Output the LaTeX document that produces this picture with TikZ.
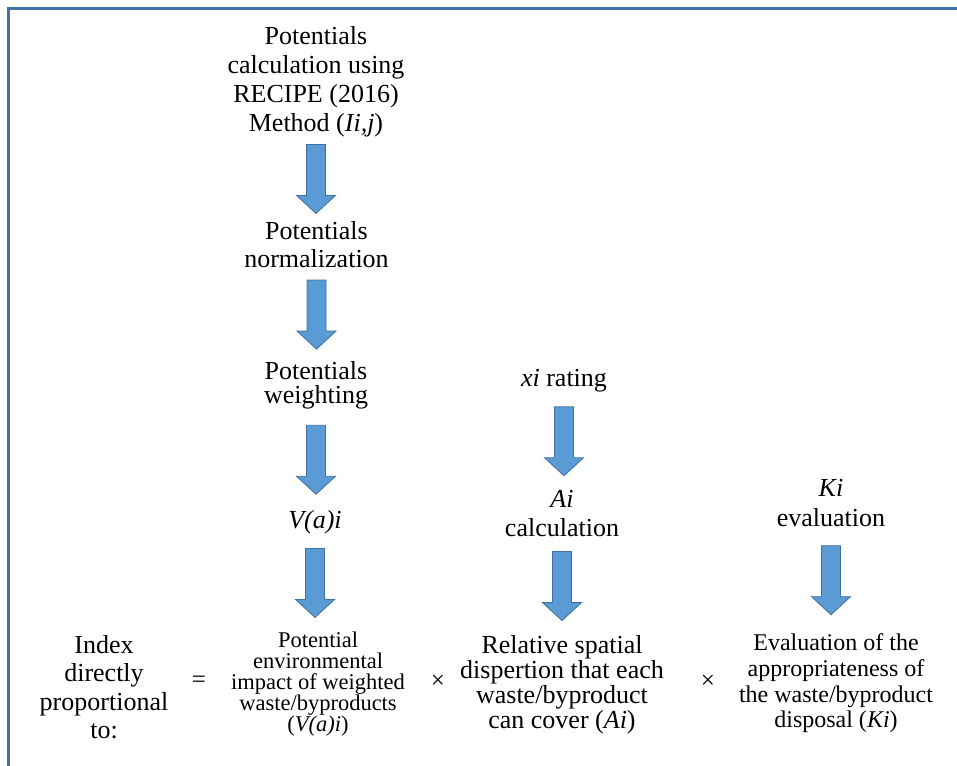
\documentclass[tikz,border=0pt]{standalone}
\usepackage{fontspec}
\setmainfont{Liberation Serif}
\usetikzlibrary{calc}
\definecolor{framecolor}{RGB}{65,113,165}
\definecolor{arrowfill}{RGB}{91,155,213}
\definecolor{arrowline}{RGB}{65,113,156}

\begin{document}
\begin{tikzpicture}[
    x=1pt, y=1pt,
    txt/.style={inner sep=0pt, anchor=north, align=center, font=\fontsize{26}{29}\selectfont},
    sign/.style={inner sep=0pt, font=\fontsize{25}{25}\selectfont},
    bigarrow/.style={draw=arrowline, fill=arrowfill, line width=0.8pt, line join=miter,
        to path={let \p1=(\tikztostart.south), \p2=($(\tikztostart.south)!0.5!(\tikztotarget.north)$) in
            (\x1-9.5pt,\y2+34.5pt) -- (\x1+9.5pt,\y2+34.5pt) -- (\x1+9.5pt,\y2-16.5pt) -- (\x1+19.5pt,\y2-16.5pt)
            -- (\x1,\y2-34.5pt) -- (\x1-19.5pt,\y2-16.5pt) -- (\x1-9.5pt,\y2-16.5pt) -- cycle}}
]
\useasboundingbox (0,0) rectangle (957,765);

% Frame
\draw[framecolor, line width=3pt] (8.5,-20) -- (8.5,756.5) -- (980,756.5);

% Left column
\node[txt] (recipe) at (316,739) {Potentials\\calculation using\\RECIPE (2016)\\Method (\textit{Ii,j})};
\node[txt, font=\fontsize{26}{28}\selectfont] (normal) at (316.5,544) {Potentials\\normalization};
\node[txt, font=\fontsize{26}{24}\selectfont] (weight) at (316,403.5) {Potentials\\weighting};
\node[txt] (vai) at (315,255) {\textit{V(a)i}};

% Middle column
\node[txt] (xirate) at (564,395.8) {\textit{xi} rating};
\node[txt] (aicalc) at (562,274.8) {\textit{Ai}\\calculation};

% Right column
\node[txt, font=\fontsize{26}{30}\selectfont] (kieval) at (831,286) {\textit{Ki}\\evaluation};

% Bottom row
\node[txt, font=\fontsize{26}{28.5}\selectfont] (index) at (104,129.8) {Index\\directly\\proportional\\to:};
\node[sign] (equal) at (199,83) {=};
\node[txt, font=\fontsize{22.5}{21}\selectfont] (impact) at (318,133) {Potential\\environmental\\impact of weighted\\waste/byproducts\\(\textit{V(a)i})};
\node[sign] (times1) at (438,83) {×};
\node[txt, font=\fontsize{26}{25}\selectfont] (spatial) at (562,129.8) {Relative spatial\\dispertion that each\\waste/byproduct\\can cover (\textit{Ai})};
\node[sign] (times2) at (708,83) {×};
\node[txt, font=\fontsize{24}{25.7}\selectfont] (dispose) at (836,131.4) {Evaluation of the\\appropriateness of\\the waste/byproduct\\disposal (\textit{Ki})};

% Block arrows
\draw[bigarrow] (recipe) to (normal);
\draw[bigarrow] (normal) to (weight);
\draw[bigarrow] (weight) to (vai);
\draw[bigarrow] (vai) to (impact);
\draw[bigarrow] (xirate) to (aicalc);
\draw[bigarrow] (aicalc) to (spatial);
\draw[bigarrow] (kieval) to (dispose);

\end{tikzpicture}
\end{document}
